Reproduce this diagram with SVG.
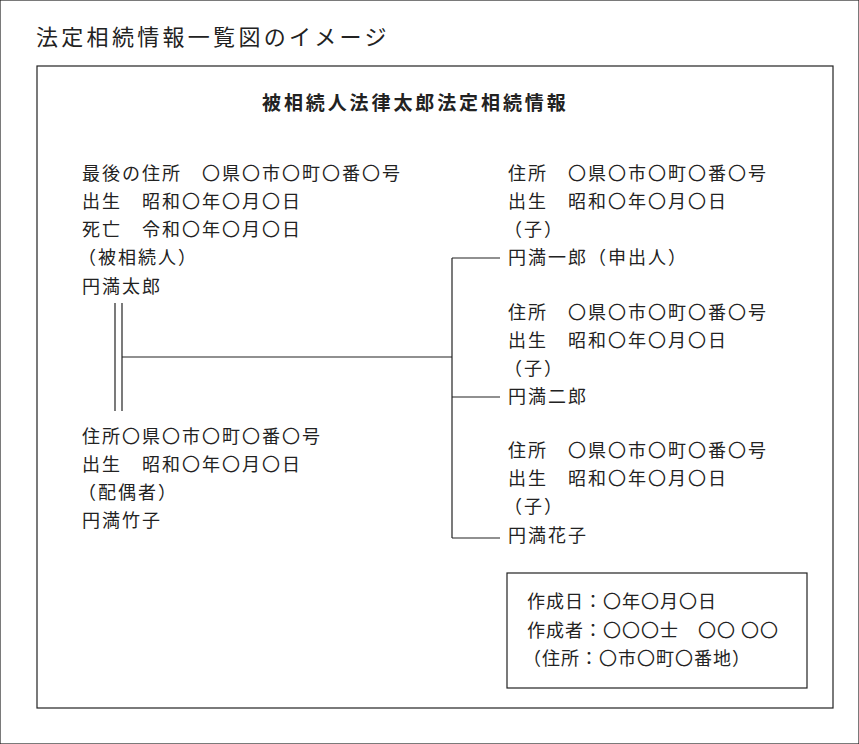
<svg xmlns="http://www.w3.org/2000/svg" width="859" height="744" viewBox="0 0 859 744">
<style>
text{font-family:"Noto Sans CJK JP","Noto Sans",sans-serif;fill:#222;font-size:18px;letter-spacing:2px}
.t{font-size:22px;letter-spacing:3.3px}
.h{font-size:19px;font-weight:bold;letter-spacing:2.9px}
.b{letter-spacing:1px}
line,rect{stroke:#222;stroke-width:1.2;fill:none}
</style>
<rect width="859" height="744" fill="#fff" stroke="none"/>
<text class="t" x="36" y="45">法定相続情報一覧図のイメージ</text>
<rect x="37" y="66" width="796" height="642"/>
<text class="h" x="262" y="110">被相続人法律太郎法定相続情報</text>
<g id="deceased"><text x="82" y="180">最後の住所　〇県〇市〇町〇番〇号</text><text x="82" y="208">出生　昭和〇年〇月〇日</text><text x="82" y="236">死亡　令和〇年〇月〇日</text><text x="78" y="264">（被相続人）</text><text x="82" y="293">円満太郎</text></g>
<g id="spouse"><text x="82" y="443">住所〇県〇市〇町〇番〇号</text><text x="82" y="471">出生　昭和〇年〇月〇日</text><text x="78" y="499">（配偶者）</text><text x="82" y="527">円満竹子</text></g>
<g id="child1"><text x="508" y="180">住所　〇県〇市〇町〇番〇号</text><text x="508" y="208">出生　昭和〇年〇月〇日</text><text x="504" y="236">（子）</text><text x="508" y="264">円満一郎（申出人）</text></g>
<g id="child2"><text x="508" y="319">住所　〇県〇市〇町〇番〇号</text><text x="508" y="347">出生　昭和〇年〇月〇日</text><text x="504" y="375">（子）</text><text x="508" y="403">円満二郎</text></g>
<g id="child3"><text x="508" y="457">住所　〇県〇市〇町〇番〇号</text><text x="508" y="485">出生　昭和〇年〇月〇日</text><text x="504" y="513">（子）</text><text x="508" y="542">円満花子</text></g>
<g id="connectors">
<line x1="115" y1="303" x2="115" y2="411"/><line x1="122" y1="303" x2="122" y2="411"/>
<line x1="122" y1="357" x2="452" y2="357"/>
<line x1="452" y1="258" x2="452" y2="538"/>
<line x1="452" y1="258" x2="500" y2="258"/>
<line x1="452" y1="397" x2="500" y2="397"/>
<line x1="452" y1="538" x2="500" y2="538"/>
</g>
<g id="creator"><rect x="507" y="573" width="300" height="115"/><text class="b" x="527" y="608">作成日：〇年〇月〇日</text><text class="b" x="527" y="637">作成者：〇〇〇士　〇〇 〇〇</text><text class="b" x="523" y="665">（住所：〇市〇町〇番地）</text></g>
</svg>
